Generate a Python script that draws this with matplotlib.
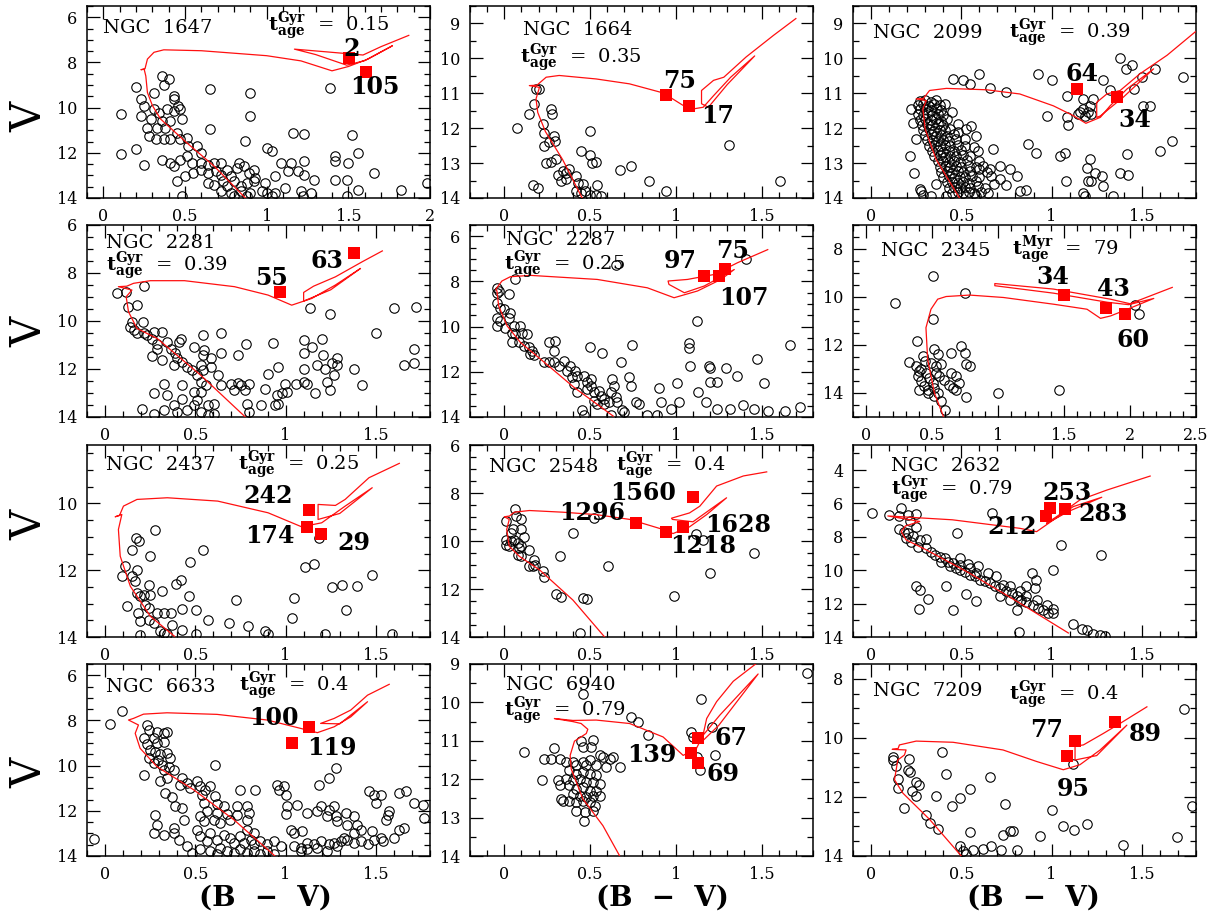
import matplotlib
matplotlib.use('Agg')
import matplotlib.pyplot as plt
from matplotlib.ticker import MultipleLocator, FuncFormatter

plt.rcParams['font.family'] = 'DejaVu Serif'
plt.rcParams['mathtext.fontset'] = 'dejavuserif'

# ---------------- NGC 1647 ----------------
ngc1647_stars = [
    (0.36, 8.59), (0.40, 8.74), (0.20, 9.07), (0.31, 9.33), (0.37, 9.00), (0.43, 9.48), (0.43, 9.63),
    (0.46, 9.93), (0.23, 9.63), (0.25, 9.93), (0.11, 10.27), (0.31, 10.07), (0.34, 10.22), (0.39, 10.07),
    (0.43, 10.15), (0.47, 10.07), (0.23, 10.37), (0.29, 10.52), (0.36, 10.59), (0.41, 10.59), (0.48, 10.52),
    (0.27, 10.89), (0.33, 10.89), (0.38, 10.89), (0.45, 11.11), (0.51, 11.33), (0.28, 11.26), (0.32, 11.41),
    (0.37, 11.41), (0.41, 11.41), (0.47, 11.41), (0.52, 11.70), (0.575, 11.70), (0.60, 12.00), (0.20, 11.85),
    (0.11, 12.07), (0.25, 12.52), (0.36, 12.30), (0.41, 12.44), (0.43, 12.59), (0.47, 12.30), (0.51, 12.15),
    (0.545, 12.44), (0.60, 12.44), (0.64, 12.52), (0.68, 12.44), (0.72, 12.44), (0.45, 13.26), (0.50, 13.04),
    (0.55, 12.89), (0.60, 12.74), (0.64, 12.89), (0.69, 12.81), (0.72, 12.96), (0.76, 12.74), (0.78, 13.04),
    (0.82, 12.67), (0.83, 12.44), (0.86, 12.59), (0.89, 12.89), (0.92, 12.74), (0.93, 13.11), (0.64, 13.33),
    (0.68, 13.41), (0.73, 13.26), (0.76, 13.48), (0.80, 13.26), (0.84, 13.48), (0.88, 13.33), (0.92, 13.26),
    (0.99, 13.33), (1.05, 13.04), (0.72, 13.70), (0.78, 13.78), (0.84, 13.70), (0.90, 13.78), (0.97, 13.70),
    (1.00, 13.78), (1.05, 13.78), (0.48, 13.93), (0.80, 13.93), (0.88, 13.93), (1.03, 13.93), (0.65, 9.19),
    (0.90, 9.33), (0.90, 10.37), (0.65, 10.96), (0.87, 11.48), (1.00, 11.78), (1.03, 11.93), (1.16, 11.11),
    (1.23, 11.18), (1.09, 12.44), (1.15, 12.44), (1.13, 12.81), (1.19, 12.81), (1.23, 12.96), (1.29, 13.19),
    (1.23, 12.37), (1.39, 9.11), (1.42, 12.15), (1.42, 12.37), (1.42, 13.19), (1.49, 13.19), (1.50, 12.44),
    (1.52, 11.19), (1.56, 12.00), (1.56, 13.63), (1.66, 12.89), (1.82, 13.63), (1.98, 13.33), (1.11, 13.56),
    (1.21, 13.70), (1.27, 13.78), (1.22, 13.93), (1.49, 13.93),
]
ngc1647_iso = [
    (0.87, 14.0), (0.68, 12.6), (0.51, 11.55), (0.35, 10.5), (0.30, 9.9), (0.27, 9.33), (0.26, 8.6),
    (0.25, 8.3), (0.23, 8.32), (0.255, 8.28), (0.27, 7.85), (0.31, 7.55), (0.37, 7.44), (0.60, 7.48),
    (1.00, 7.70), (1.21, 7.93), (1.40, 8.37), (1.50, 8.18), (1.62, 7.85), (1.77, 7.26), (1.60, 7.92),
    (1.49, 8.12), (1.30, 7.65), (1.17, 7.41), (1.35, 7.52), (1.59, 7.67), (1.70, 7.30), (1.87, 6.80),
]
ngc1647_giant_bv = [1.505, 1.606]
ngc1647_giant_v = [7.82, 8.41]
ngc1647_giant_id = ['2', '105']

# ---------------- NGC 1664 ----------------
ngc1664_stars = [
    (0.185, 10.89), (0.205, 10.89), (0.175, 11.31), (0.146, 11.6), (0.273, 11.45), (0.279, 11.6),
    (0.224, 11.88), (0.234, 12.13), (0.292, 12.22), (0.298, 12.37), (0.263, 12.41), (0.234, 12.51),
    (0.244, 12.99), (0.273, 12.97), (0.302, 12.89), (0.312, 13.33), (0.341, 13.23), (0.36, 13.28),
    (0.38, 13.18), (0.331, 13.52), (0.36, 13.47), (0.419, 13.38), (0.429, 13.57), (0.458, 13.59),
    (0.166, 13.62), (0.195, 13.71), (0.419, 13.81), (0.448, 13.86), (0.468, 13.81), (0.497, 13.9),
    (0.536, 13.9), (0.565, 13.95), (0.497, 12.08), (0.448, 12.65), (0.50, 12.78), (0.51, 12.99),
    (0.536, 12.97), (0.54, 13.62), (0.672, 13.2), (0.74, 13.09), (0.844, 13.52), (0.94, 13.81),
    (1.31, 12.48), (1.608, 13.5), (0.074, 12.0),
]
ngc1664_iso = [
    (0.454, 14.0), (0.34, 12.9), (0.24, 12.1), (0.195, 11.55), (0.185, 11.16), (0.205, 10.83),
    (0.146, 10.78), (0.19, 10.77), (0.244, 10.54), (0.32, 10.49), (0.536, 10.59), (0.73, 10.73),
    (0.926, 10.99), (1.04, 11.34), (1.10, 11.45), (1.16, 11.40), (1.22, 11.07), (1.32, 10.54),
    (1.46, 9.93), (1.30, 10.75), (1.19, 11.40), (1.15, 11.30), (1.15, 10.92), (1.22, 10.63),
    (1.28, 10.54), (1.41, 9.96), (1.57, 9.34), (1.70, 8.86),
]
ngc1664_giant_bv = [0.945, 1.078]
ngc1664_giant_v = [11.04, 11.375]
ngc1664_giant_id = ['75', '17']

# ---------------- NGC 2099 ----------------
ngc2099_stars = [
    (0.27, 11.22), (0.30, 11.18), (0.33, 11.25), (0.36, 11.2), (0.26, 11.33), (0.29, 11.30), (0.32, 11.36),
    (0.35, 11.31), (0.38, 11.35), (0.41, 11.32), (0.27, 11.46), (0.30, 11.44), (0.33, 11.48), (0.36, 11.43),
    (0.39, 11.47), (0.26, 11.6), (0.29, 11.62), (0.31, 11.57), (0.34, 11.61), (0.37, 11.59), (0.40, 11.63),
    (0.27, 11.76), (0.30, 11.73), (0.33, 11.77), (0.36, 11.74), (0.39, 11.78), (0.42, 11.75), (0.28, 11.9),
    (0.31, 11.88), (0.34, 11.92), (0.37, 11.89), (0.40, 11.91), (0.29, 12.05), (0.32, 12.03), (0.35, 12.07),
    (0.38, 12.04), (0.41, 12.06), (0.44, 12.02), (0.30, 12.2), (0.33, 12.18), (0.36, 12.22), (0.39, 12.19),
    (0.42, 12.21), (0.46, 12.17), (0.31, 12.35), (0.34, 12.33), (0.37, 12.37), (0.40, 12.34), (0.43, 12.36),
    (0.47, 12.32), (0.32, 12.5), (0.35, 12.48), (0.38, 12.52), (0.41, 12.49), (0.44, 12.51), (0.48, 12.47),
    (0.52, 12.5), (0.34, 12.65), (0.37, 12.63), (0.40, 12.67), (0.43, 12.64), (0.46, 12.66), (0.50, 12.62),
    (0.35, 12.8), (0.38, 12.78), (0.41, 12.82), (0.44, 12.79), (0.47, 12.81), (0.51, 12.77), (0.55, 12.8),
    (0.37, 12.95), (0.40, 12.93), (0.43, 12.97), (0.46, 12.94), (0.49, 12.96), (0.53, 12.92), (0.38, 13.1),
    (0.41, 13.08), (0.44, 13.12), (0.47, 13.09), (0.50, 13.11), (0.54, 13.07), (0.58, 13.1), (0.39, 13.25),
    (0.42, 13.23), (0.45, 13.27), (0.48, 13.24), (0.51, 13.26), (0.55, 13.22), (0.40, 13.4), (0.43, 13.38),
    (0.46, 13.42), (0.49, 13.39), (0.52, 13.41), (0.56, 13.37), (0.60, 13.4), (0.42, 13.55), (0.45, 13.53),
    (0.48, 13.57), (0.51, 13.54), (0.54, 13.56), (0.58, 13.52), (0.43, 13.7), (0.46, 13.68), (0.49, 13.72),
    (0.52, 13.69), (0.55, 13.71), (0.59, 13.67), (0.63, 13.7), (0.45, 13.85), (0.48, 13.83), (0.51, 13.87),
    (0.54, 13.84), (0.57, 13.86), (0.61, 13.82), (0.65, 13.85),
    (0.22, 11.45), (0.23, 11.85), (0.25, 12.3), (0.45, 11.55), (0.48, 12.1), (0.52, 12.3), (0.57, 12.55),
    (0.60, 12.95), (0.64, 13.25), (0.68, 13.6), (0.33, 13.95), (0.36, 13.6),
    (0.454, 10.59), (0.509, 10.63), (0.55, 10.73), (0.60, 10.44), (0.657, 10.86), (0.75, 10.97),
    (0.926, 10.44), (1.0, 10.63), (1.083, 11.07), (1.083, 11.69), (1.093, 11.91), (0.972, 11.66),
    (1.38, 9.99), (1.41, 10.3), (1.444, 10.2), (1.287, 10.63), (1.324, 10.92), (1.454, 10.88),
    (1.5, 10.54), (1.574, 10.3), (1.509, 11.36), (1.546, 11.36), (1.73, 10.54),
    (1.176, 11.16), (1.213, 11.36), (1.176, 11.45), (1.204, 11.55), (1.157, 11.55), (1.22, 11.6),
    (1.185, 11.64), (1.231, 11.16), (1.148, 11.6),
    (0.213, 12.8), (0.24, 13.28), (0.269, 13.74), (0.278, 13.81), (0.287, 13.9), (0.48, 11.88),
    (0.528, 12.03), (0.555, 11.93), (0.593, 12.65), (0.583, 12.22), (0.62, 13.09), (0.676, 12.6),
    (0.60, 13.18), (0.657, 13.18), (0.713, 13.09), (0.713, 13.47), (0.667, 13.38), (0.769, 13.18),
    (0.806, 13.38), (0.75, 13.62), (0.824, 13.81), (0.861, 13.76), (0.87, 12.46), (0.913, 12.7),
    (1.046, 12.8), (1.074, 12.7), (1.08, 13.52), (1.176, 13.86), (1.194, 13.13), (1.204, 13.52),
    (1.213, 12.89), (1.24, 13.28), (1.278, 13.38), (1.287, 13.66), (1.343, 13.95), (1.38, 13.28),
    (1.426, 13.33), (1.417, 12.75), (1.602, 12.65), (1.667, 12.37), (1.22, 13.52), (1.185, 13.95),
    (0.417, 13.95), (0.583, 13.95),
]
ngc2099_iso = [
    (0.49, 14.0), (0.361, 12.9), (0.30, 12.03), (0.287, 11.45), (0.306, 11.21), (0.25, 11.16),
    (0.29, 11.15), (0.324, 10.92), (0.417, 10.86), (0.64, 10.9), (0.824, 11.02), (1.01, 11.36),
    (1.12, 11.64), (1.19, 11.86), (1.27, 11.69), (1.324, 11.36), (1.417, 10.88), (1.565, 10.3),
    (1.40, 11.1), (1.27, 11.65), (1.25, 11.69), (1.25, 11.26), (1.306, 11.02), (1.38, 10.92),
    (1.49, 10.44), (1.64, 9.91), (1.796, 9.24),
]
ngc2099_giant_bv = [1.139, 1.361]
ngc2099_giant_v = [10.875, 11.10]
ngc2099_giant_id = ['64', '34']

# ---------------- NGC 2281 ----------------
ngc2281_stars = [
    (0.065, 8.85), (0.117, 8.78), (0.214, 8.55), (0.125, 9.41), (0.177, 9.34), (0.149, 10.03), (0.21, 10.03),
    (0.14, 10.24), (0.158, 10.38), (0.177, 10.52), (0.214, 10.52), (0.233, 10.59), (0.27, 10.45),
    (0.317, 10.45), (0.26, 10.73), (0.289, 10.94), (0.345, 10.87), (0.41, 10.87), (0.289, 11.15),
    (0.363, 11.15), (0.39, 11.35), (0.317, 11.63), (0.26, 11.45), (0.40, 11.56), (0.428, 11.7),
    (0.456, 11.91), (0.382, 11.84), (0.484, 12.05), (0.512, 12.26), (0.54, 12.05), (0.53, 12.54),
    (0.56, 12.68), (0.493, 11.08), (0.54, 10.59), (0.55, 11.21), (0.54, 11.42), (0.587, 11.56),
    (0.53, 11.84), (0.587, 11.91), (0.642, 11.35), (0.64, 10.52), (0.419, 10.73), (0.624, 12.26),
    (0.642, 12.68), (0.698, 12.61), (0.736, 12.57), (0.754, 12.68), (0.773, 12.89), (0.80, 12.61),
    (0.717, 12.89), (0.736, 11.42), (0.782, 10.94), (0.326, 12.61), (0.27, 13.02), (0.345, 13.09),
    (0.428, 12.68), (0.428, 13.23), (0.493, 12.95), (0.512, 13.3), (0.53, 12.95), (0.568, 13.51),
    (0.605, 13.44), (0.456, 13.72), (0.493, 13.51), (0.53, 13.79), (0.605, 13.86), (0.568, 13.93),
    (0.382, 13.51), (0.40, 13.79), (0.326, 13.72), (0.205, 13.65), (0.27, 13.86), (0.789, 13.44),
    (0.80, 13.79), (0.866, 13.51), (0.885, 12.84), (0.903, 12.19), (0.931, 10.9), (0.96, 11.91),
    (0.95, 13.09), (0.978, 13.02), (0.96, 13.44), (0.94, 13.51), (0.996, 12.61), (1.006, 12.95),
    (1.06, 12.61), (1.1, 10.8), (1.1, 11.35), (1.1, 11.98), (1.1, 12.54), (1.117, 12.61), (1.145, 11.08),
    (1.136, 9.45), (1.164, 13.02), (1.173, 11.84), (1.2, 10.73), (1.21, 11.42), (1.22, 11.98),
    (1.229, 12.54), (1.248, 9.69), (1.248, 12.89), (1.257, 11.77), (1.267, 12.26), (1.285, 11.56),
    (1.285, 11.84), (1.378, 11.98), (1.425, 12.68), (1.5, 10.52), (1.6, 9.45), (1.657, 11.84),
    (1.713, 11.77), (1.713, 11.15), (1.722, 9.41),
]
ngc2281_iso = [
    (0.777, 14.0), (0.53, 12.26), (0.289, 10.73), (0.177, 10.31), (0.13, 9.62), (0.117, 8.99),
    (0.149, 8.71), (0.074, 8.57), (0.12, 8.55), (0.158, 8.43), (0.251, 8.32), (0.44, 8.32),
    (0.717, 8.57), (0.903, 8.92), (1.034, 9.34), (1.145, 9.06), (1.276, 8.50), (1.415, 7.81),
    (1.25, 8.7), (1.10, 9.17), (1.10, 8.81), (1.155, 8.55), (1.276, 8.16), (1.425, 7.53), (1.536, 7.08),
]
ngc2281_giant_bv = [0.968, 1.378]
ngc2281_giant_v = [8.81, 7.18]
ngc2281_giant_id = ['55', '63']

# ---------------- NGC 2287 ----------------
ngc2287_stars = [
    (0.649, 7.29), (1.41, 7.0), (0.064, 7.88), (-0.043, 8.28), (-0.043, 8.5), (-0.033, 8.42), (0.025, 8.57),
    (-0.043, 8.94), (-0.023, 9.16), (-0.004, 9.23), (0.035, 9.38), (-0.043, 9.6), (-0.023, 9.74),
    (0.025, 9.6), (-0.043, 9.99), (0.006, 10.04), (0.055, 9.96), (0.094, 9.96), (0.045, 10.26),
    (0.064, 10.33), (0.103, 10.26), (0.133, 10.33), (0.045, 10.67), (0.084, 10.7), (0.113, 10.85),
    (0.142, 10.92), (0.162, 11.07), (0.152, 11.21), (0.172, 11.26), (0.259, 10.7), (0.298, 10.63),
    (0.292, 11.07), (0.23, 11.58), (0.259, 11.58), (0.288, 11.55), (0.347, 11.54), (0.318, 11.73),
    (0.386, 11.73), (0.366, 11.95), (0.415, 11.95), (0.425, 12.17), (0.396, 12.24), (0.464, 12.17),
    (0.405, 12.53), (0.425, 12.9), (0.483, 12.46), (0.503, 12.31), (0.503, 12.61), (0.483, 12.75),
    (0.522, 12.9), (0.552, 12.83), (0.561, 13.05), (0.58, 13.2), (0.63, 12.31), (0.64, 12.61),
    (0.62, 12.9), (0.649, 13.12), (0.522, 13.27), (0.542, 13.41), (0.58, 13.41), (0.61, 13.34),
    (0.659, 13.34), (0.688, 13.71), (0.698, 13.78), (0.766, 13.34), (0.786, 13.41), (0.454, 13.71),
    (0.464, 13.93), (0.62, 13.93), (0.727, 12.24), (0.737, 12.61), (0.834, 13.93), (0.893, 13.93),
    (0.499, 10.92), (0.571, 11.17), (0.682, 11.55), (0.747, 10.82), (0.904, 12.7), (0.913, 13.34),
    (0.971, 13.66), (1.006, 12.49), (1.02, 13.34), (1.078, 10.73), (1.078, 10.96), (1.084, 11.73),
    (1.121, 9.74), (1.127, 12.9), (1.177, 13.34), (1.194, 11.73), (1.198, 11.84), (1.2, 12.43),
    (1.24, 12.43), (1.24, 13.66), (1.292, 11.83), (1.318, 13.66), (1.355, 12.2), (1.39, 13.46),
    (1.458, 13.66), (1.472, 11.43), (1.513, 12.49), (1.536, 13.75), (1.634, 13.75), (1.663, 10.82),
    (1.727, 13.56),
]
ngc2287_iso = [
    (0.635, 13.96), (0.405, 12.68), (0.21, 11.43), (0.094, 10.7), (0.016, 9.96), (-0.033, 9.08),
    (-0.043, 8.42), (-0.05, 8.35), (-0.014, 7.98), (0.035, 7.79), (0.152, 7.73), (0.542, 7.91),
    (0.834, 8.28), (0.99, 8.72), (1.127, 8.42), (1.263, 7.91), (1.341, 7.47), (1.166, 8.2),
    (1.05, 8.5), (0.96, 8.13), (0.955, 7.98), (1.068, 7.91), (1.224, 7.69), (1.36, 7.17), (1.536, 6.59),
]
ngc2287_giant_bv = [1.162, 1.287, 1.253]
ngc2287_giant_v = [7.76, 7.44, 7.76]
ngc2287_giant_id = ['97', '75', '107']

# ---------------- NGC 2345 ----------------
ngc2345_stars = [
    (0.219, 10.26), (0.509, 9.14), (0.75, 9.84), (0.509, 10.9), (0.382, 11.84), (0.326, 12.71),
    (0.377, 12.88), (0.402, 13.09), (0.39, 13.3), (0.427, 12.46), (0.448, 12.67), (0.517, 12.18),
    (0.542, 12.39), (0.491, 12.74), (0.567, 12.81), (0.453, 13.16), (0.529, 13.16), (0.555, 13.3),
    (0.478, 13.37), (0.415, 13.51), (0.504, 13.58), (0.44, 13.72), (0.466, 13.86), (0.517, 13.79),
    (0.542, 14.0), (0.402, 13.86), (0.593, 13.44), (0.631, 13.65), (0.644, 13.16), (0.656, 13.79),
    (0.682, 13.3), (0.707, 13.58), (0.644, 12.32), (0.72, 12.05), (0.746, 12.32), (0.758, 12.81),
    (0.784, 12.88), (0.682, 13.86), (0.758, 14.16), (0.567, 14.35), (0.6, 14.69), (0.517, 14.14),
    (0.466, 14.0), (1.0, 14.0), (1.458, 13.86), (2.04, 10.34), (2.07, 10.72), (0.529, 12.88),
    (0.415, 13.02),
]
ngc2345_iso = [
    (0.585, 14.97), (0.517, 14.0), (0.466, 12.6), (0.453, 11.28), (0.491, 10.51), (0.542, 10.09),
    (0.606, 9.98), (0.784, 9.92), (1.04, 10.02), (1.42, 10.3), (1.674, 10.51), (1.776, 10.89),
    (1.852, 10.79), (1.98, 10.51), (2.18, 10.06), (1.99, 10.32), (1.83, 10.22), (1.42, 9.84),
    (0.975, 9.53), (0.975, 9.44), (1.42, 9.67), (1.85, 10.09), (2.0, 10.28), (2.32, 9.6),
]
ngc2345_giant_bv = [1.50, 1.82, 1.96]
ngc2345_giant_v = [9.92, 10.47, 10.69]
ngc2345_giant_id = ['34', '43', '60']

# ---------------- NGC 2437 ----------------
ngc2437_stars = [
    (0.274, 10.8), (0.171, 11.03), (0.186, 11.13), (0.149, 11.38), (0.251, 11.56), (0.54, 11.38),
    (0.471, 11.74), (0.112, 11.86), (0.093, 12.18), (0.149, 12.18), (0.177, 12.0), (0.168, 12.33),
    (0.121, 13.08), (0.177, 12.68), (0.196, 12.78), (0.214, 12.73), (0.242, 12.43), (0.248, 12.73),
    (0.317, 12.63), (0.391, 12.4), (0.419, 12.3), (0.466, 12.76), (0.224, 13.03), (0.242, 13.13),
    (0.181, 13.28), (0.196, 13.53), (0.242, 13.48), (0.27, 13.58), (0.289, 13.28), (0.326, 13.28),
    (0.363, 13.28), (0.428, 13.16), (0.503, 13.18), (0.568, 13.48), (0.372, 13.63), (0.428, 13.78),
    (0.307, 13.83), (0.326, 13.88), (0.345, 13.9), (0.196, 13.93), (0.503, 13.9), (0.689, 13.58),
    (0.726, 12.88), (0.791, 13.66), (0.885, 13.83), (0.903, 13.9), (1.034, 13.43), (1.047, 12.83),
    (1.108, 11.9), (1.155, 11.8), (1.186, 11.03), (1.22, 13.9), (1.257, 12.5), (1.31, 12.43),
    (1.337, 13.2), (1.397, 12.48), (1.477, 12.13), (1.592, 13.9),
]
ngc2437_iso = [
    (0.385, 13.98), (0.251, 13.38), (0.14, 12.48), (0.084, 11.58), (0.074, 10.78), (0.093, 10.33),
    (0.056, 10.4), (0.08, 10.36), (0.102, 10.08), (0.177, 9.88), (0.345, 9.83), (0.624, 9.93),
    (0.903, 10.28), (1.089, 10.7), (1.20, 10.58), (1.33, 10.08), (1.48, 9.53), (1.30, 10.3),
    (1.18, 10.48), (1.18, 10.03), (1.276, 10.06), (1.33, 9.88), (1.462, 9.23), (1.63, 8.8),
]
ngc2437_giant_bv = [1.127, 1.117, 1.196]
ngc2437_giant_v = [10.20, 10.70, 10.91]
ngc2437_giant_id = ['242', '174', '29']

# ---------------- NGC 2548 ----------------
ngc2548_stars = [
    (0.064, 8.66), (0.01, 9.17), (0.068, 8.97), (0.097, 9.1), (0.049, 9.52), (0.039, 9.66), (0.097, 9.52),
    (0.01, 9.94), (0.039, 10.01), (0.01, 10.15), (0.029, 10.22), (0.058, 9.94), (0.078, 10.08),
    (0.117, 9.83), (0.088, 10.29), (0.097, 10.2), (0.078, 10.57), (0.097, 10.64), (0.146, 10.36),
    (0.175, 10.78), (0.146, 11.03), (0.166, 11.03), (0.181, 10.99), (0.224, 11.27), (0.234, 11.48),
    (0.302, 12.21), (0.331, 12.32), (0.458, 12.39), (0.482, 12.43), (0.439, 13.83), (0.327, 10.64),
    (0.403, 9.66), (0.522, 9.03), (0.604, 11.06), (0.99, 12.28), (1.117, 9.69), (1.156, 9.94),
    (1.199, 11.34), (1.456, 10.5),
]
ngc2548_iso = [
    (0.585, 14.0), (0.40, 12.46), (0.205, 11.2), (0.088, 10.64), (0.029, 10.22), (0.014, 9.52),
    (0.029, 9.1), (0.0, 8.99), (0.03, 8.96), (0.058, 8.8), (0.146, 8.73), (0.341, 8.8), (0.536, 8.9),
    (0.731, 9.1), (0.926, 9.52), (0.984, 9.69), (1.08, 9.41), (1.18, 8.9), (1.296, 8.2), (1.10, 9.2),
    (0.98, 9.1), (0.975, 9.05), (1.08, 8.83), (1.14, 8.55), (1.238, 7.71), (1.394, 7.29), (1.53, 7.12),
]
ngc2548_giant_bv = [1.101, 0.766, 1.043, 0.942]
ngc2548_giant_v = [8.15, 9.24, 9.41, 9.62]
ngc2548_giant_id = ['1560', '1296', '1628', '1218']

# ---------------- NGC 2632 ----------------
ngc2632_stars = [
    (0.004, 6.59), (0.102, 6.69), (0.167, 6.29), (0.204, 6.69), (0.25, 6.63), (0.157, 6.75), (0.213, 7.03),
    (0.25, 7.43), (0.157, 7.55), (0.185, 7.69), (0.204, 7.79), (0.231, 7.98), (0.194, 8.08), (0.222, 8.28),
    (0.269, 8.18), (0.306, 8.14), (0.259, 8.58), (0.306, 8.68), (0.333, 8.88), (0.352, 9.08), (0.38, 9.18),
    (0.407, 9.28), (0.426, 9.48), (0.454, 9.58), (0.472, 9.88), (0.491, 9.98), (0.519, 10.08),
    (0.546, 10.27), (0.574, 10.37), (0.602, 10.57), (0.63, 10.67), (0.657, 10.77), (0.685, 10.97),
    (0.713, 11.07), (0.75, 11.27), (0.778, 11.37), (0.806, 11.57), (0.833, 11.77), (0.861, 11.93),
    (0.898, 12.07), (0.926, 12.27), (0.954, 12.37), (0.981, 12.57), (0.389, 9.48), (0.435, 9.74),
    (0.491, 9.68), (0.546, 9.88), (0.583, 10.14), (0.648, 10.18), (0.593, 9.74), (0.694, 10.37),
    (0.731, 10.87), (0.769, 10.97), (0.824, 11.27), (0.861, 11.57), (0.917, 11.77), (0.972, 12.07),
    (1.009, 12.33), (0.713, 11.57), (0.769, 11.77), (0.824, 11.87), (0.861, 10.97), (0.907, 11.07),
    (0.491, 9.28), (0.537, 9.62), (0.25, 10.93), (0.272, 11.17), (0.315, 11.71), (0.263, 12.33),
    (0.454, 12.41), (0.417, 10.97), (0.524, 11.41), (0.583, 11.87), (0.806, 12.37), (0.817, 13.72),
    (0.889, 10.14), (0.913, 10.61), (1.009, 9.98), (1.05, 8.48), (1.274, 9.08), (0.67, 6.55),
    (0.478, 7.78), (1.12, 13.2), (1.167, 13.52), (1.194, 13.6), (1.231, 13.8), (1.268, 13.86),
    (1.296, 13.92), (1.009, 12.57),
]
ngc2632_iso = [
    (1.093, 13.76), (0.824, 11.97), (0.546, 10.18), (0.306, 8.78), (0.194, 8.18), (0.167, 7.69),
    (0.19, 7.35), (0.27, 7.08), (0.20, 6.95), (0.093, 6.75), (0.45, 6.98), (0.824, 7.49), (0.917, 7.69),
    (1.01, 6.99), (1.12, 6.19), (1.278, 5.63), (1.10, 6.45), (0.972, 7.19), (1.028, 6.79), (1.157, 5.79),
    (1.306, 5.2), (1.546, 4.36),
]
ngc2632_giant_bv = [0.991, 1.074, 0.969]
ngc2632_giant_v = [6.29, 6.33, 6.75]
ngc2632_giant_id = ['253', '283', '212']

# ---------------- NGC 6633 ----------------
ngc6633_stars = [
    (0.093, 7.57), (0.028, 8.16), (-0.061, 13.24), (0.231, 8.2), (0.241, 8.42), (0.287, 8.5), (0.213, 8.79),
    (0.269, 8.79), (0.324, 8.54), (0.343, 8.5), (0.231, 9.04), (0.287, 9.01), (0.324, 8.94), (0.25, 9.3),
    (0.278, 9.38), (0.306, 9.48), (0.343, 9.45), (0.361, 9.67), (0.241, 9.67), (0.269, 9.89),
    (0.296, 9.74), (0.315, 9.96), (0.352, 10.04), (0.38, 10.19), (0.324, 10.19), (0.213, 10.41),
    (0.306, 10.7), (0.343, 10.55), (0.426, 10.55), (0.417, 10.85), (0.454, 10.77), (0.472, 10.99),
    (0.333, 11.21), (0.37, 11.39), (0.389, 11.77), (0.426, 11.87), (0.435, 12.39), (0.278, 12.17),
    (0.287, 12.61), (0.269, 12.97), (0.324, 13.05), (0.38, 12.97), (0.38, 12.75), (0.407, 13.27),
    (0.509, 10.7), (0.528, 10.92), (0.556, 11.07), (0.583, 10.92), (0.537, 11.29), (0.611, 11.36),
    (0.546, 11.65), (0.62, 11.68), (0.657, 11.8), (0.565, 12.02), (0.62, 12.09), (0.676, 12.12),
    (0.528, 12.24), (0.546, 12.46), (0.602, 12.39), (0.639, 12.53), (0.694, 12.39), (0.731, 12.17),
    (0.731, 11.8), (0.787, 11.8), (0.796, 12.09), (0.787, 12.39), (0.787, 12.83), (0.824, 12.97),
    (0.75, 11.07), (0.833, 11.07), (0.611, 9.96), (0.509, 12.83), (0.528, 13.12), (0.583, 12.97),
    (0.565, 13.34), (0.62, 13.27), (0.657, 13.05), (0.694, 13.2), (0.713, 13.42), (0.75, 13.12),
    (0.769, 13.42), (0.806, 13.27), (0.824, 13.49), (0.861, 13.34), (0.898, 13.49), (0.935, 13.34),
    (0.972, 13.56), (0.528, 13.71), (0.583, 13.78), (0.639, 13.64), (0.676, 13.78), (0.713, 13.86),
    (0.75, 13.71), (0.787, 13.86), (0.824, 13.78), (0.861, 13.93), (0.898, 13.78), (0.935, 13.93),
    (0.62, 13.93), (0.454, 13.56), (0.481, 13.86), (0.954, 10.85), (0.991, 10.92), (1.0, 11.29),
    (0.963, 11.07), (1.009, 11.8), (1.0, 12.12), (1.028, 12.83), (1.046, 12.97), (1.093, 12.9),
    (1.065, 11.73), (1.12, 12.09), (1.176, 12.02), (1.194, 11.8), (1.185, 10.85), (1.241, 10.55),
    (1.278, 10.11), (1.231, 12.24), (1.241, 11.95), (1.269, 11.8), (1.278, 12.24), (1.287, 12.46),
    (1.333, 12.09), (1.343, 12.61), (1.38, 12.24), (1.398, 12.61), (1.417, 12.83), (1.38, 12.97),
    (1.343, 13.27), (1.306, 13.34), (1.269, 13.42), (1.241, 13.49), (1.194, 13.34), (1.157, 13.49),
    (1.12, 13.42), (1.083, 13.64), (1.046, 13.56), (1.083, 13.78), (1.12, 13.71), (1.176, 13.64),
    (1.231, 13.78), (1.287, 13.56), (1.324, 13.2), (1.38, 13.42), (1.417, 13.34), (1.454, 13.49),
    (1.481, 12.9), (1.491, 13.27), (1.528, 13.2), (1.537, 13.34), (1.463, 11.14), (1.491, 11.29),
    (1.5, 11.65), (1.528, 11.29), (1.556, 12.39), (1.565, 12.17), (1.574, 12.02), (1.602, 13.2),
    (1.63, 12.83), (1.657, 12.75), (1.63, 11.21), (1.667, 11.14), (1.713, 11.65), (1.759, 11.73),
    (1.769, 12.31),
]
ngc6633_iso = [
    (0.941, 14.0), (0.713, 12.39), (0.491, 11.07), (0.287, 10.04), (0.194, 9.23), (0.167, 8.57),
    (0.185, 8.2), (0.13, 7.98), (0.157, 7.91), (0.213, 7.72), (0.343, 7.66), (0.62, 7.73), (0.898, 7.98),
    (1.083, 8.35), (1.176, 8.54), (1.269, 8.28), (1.361, 7.84), (1.454, 7.17), (1.30, 8.15),
    (1.194, 8.13), (1.269, 7.91), (1.361, 7.54), (1.454, 6.88), (1.574, 6.4),
]
ngc6633_giant_bv = [1.13, 1.037]
ngc6633_giant_v = [8.31, 9.01]
ngc6633_giant_id = ['100', '119']

# ---------------- NGC 6940 ----------------
ngc6940_stars = [
    (1.764, 9.24), (0.458, 9.79), (0.741, 10.37), (0.78, 10.52), (0.838, 10.85), (1.146, 9.91),
    (1.209, 10.63), (1.228, 11.38), (1.088, 10.78), (1.101, 10.9), (1.121, 11.42), (1.14, 11.77),
    (0.117, 11.29), (0.22, 12.03), (0.234, 11.47), (0.273, 11.47), (0.322, 11.47), (0.292, 11.2),
    (0.448, 11.01), (0.461, 11.16), (0.507, 11.16), (0.516, 10.98), (0.556, 11.38), (0.575, 11.42),
    (0.614, 11.47), (0.634, 11.42), (0.595, 11.68), (0.673, 11.68), (0.36, 11.55), (0.4, 11.55),
    (0.419, 11.64), (0.458, 11.55), (0.478, 11.64), (0.497, 11.51), (0.536, 11.64), (0.38, 11.77),
    (0.419, 11.86), (0.458, 11.81), (0.497, 11.86), (0.536, 11.9), (0.36, 12.0), (0.4, 12.03),
    (0.439, 12.0), (0.478, 12.08), (0.516, 12.08), (0.556, 12.12), (0.38, 12.16), (0.419, 12.25),
    (0.458, 12.21), (0.497, 12.3), (0.536, 12.3), (0.556, 12.43), (0.4, 12.38), (0.439, 12.43),
    (0.478, 12.47), (0.516, 12.43), (0.38, 12.56), (0.419, 12.6), (0.458, 12.56), (0.497, 12.6),
    (0.526, 12.69), (0.419, 12.82), (0.468, 12.86), (0.516, 12.82), (0.462, 13.08), (0.312, 12.03),
    (0.322, 12.16), (0.331, 12.51), (0.341, 12.56),
]
ngc6940_iso = [
    (0.673, 14.0), (0.575, 13.21), (0.458, 12.51), (0.39, 11.73), (0.384, 11.38), (0.409, 11.01),
    (0.478, 10.81), (0.487, 10.7), (0.448, 10.55), (0.40, 10.5), (0.292, 10.42), (0.40, 10.47),
    (0.536, 10.46), (0.731, 10.55), (0.926, 10.9), (1.043, 11.38), (1.12, 11.2), (1.16, 10.85),
    (1.257, 10.33), (1.48, 9.26), (1.25, 10.6), (1.15, 11.03), (1.18, 10.42), (1.238, 9.98),
    (1.335, 9.45), (1.48, 8.95),
]
ngc6940_giant_bv = [1.131, 1.088, 1.131]
ngc6940_giant_v = [10.94, 11.32, 11.58]
ngc6940_giant_id = ['67', '139', '69']

# ---------------- NGC 7209 ----------------
ngc7209_stars = [
    (1.731, 9.01), (1.778, 12.32), (1.694, 13.35), (1.398, 13.64), (1.194, 12.93), (1.124, 13.12),
    (1.061, 12.99), (1.0, 12.43), (0.935, 13.33), (1.12, 10.89), (0.741, 12.23), (0.661, 11.31),
    (0.55, 11.73), (0.491, 12.04), (0.45, 12.32), (0.413, 11.23), (0.394, 10.47), (0.357, 11.98),
    (0.306, 12.6), (0.324, 12.88), (0.37, 13.1), (0.12, 10.66), (0.124, 10.75), (0.139, 10.97),
    (0.148, 11.4), (0.152, 11.7), (0.185, 12.37), (0.209, 10.72), (0.204, 11.08), (0.217, 11.14),
    (0.25, 11.48), (0.263, 11.59), (0.228, 11.81), (0.25, 11.98), (0.546, 13.19), (0.491, 13.66),
    (0.509, 13.83), (0.565, 13.8), (0.62, 13.75), (0.667, 13.66), (0.722, 13.8), (0.731, 13.3),
    (0.769, 13.16), (0.787, 13.16), (0.806, 13.8), (0.528, 13.94),
]
ngc7209_iso = [
    (0.5, 14.0), (0.324, 12.76), (0.176, 11.87), (0.13, 11.42), (0.148, 10.75), (0.185, 10.58),
    (0.194, 10.41), (0.117, 10.39), (0.15, 10.36), (0.157, 10.24), (0.25, 10.11), (0.454, 10.15),
    (0.731, 10.41), (0.917, 10.8), (1.065, 11.08), (1.157, 10.91), (1.269, 10.41), (1.417, 9.57),
    (1.25, 10.6), (1.13, 10.75), (1.13, 10.28), (1.176, 10.24), (1.287, 9.85), (1.38, 9.51), (1.528, 8.95),
]
ngc7209_giant_bv = [1.13, 1.083, 1.352]
ngc7209_giant_v = [10.11, 10.63, 9.46]
ngc7209_giant_id = ['77', '95', '89']

cluster_names = ['1647', '1664', '2099', '2281', '2287', '2345',
                 '2437', '2548', '2632', '6633', '6940', '7209']
age_units = ['Gyr', 'Gyr', 'Gyr', 'Gyr', 'Gyr', 'Myr',
             'Gyr', 'Gyr', 'Gyr', 'Gyr', 'Gyr', 'Gyr']
age_values = ['0.15', '0.35', '0.39', '0.39', '0.25', '79',
              '0.25', '0.4', '0.79', '0.4', '0.79', '0.4']

# panel settings: x range, y range (faint end first), major/minor y steps,
# where the age text goes, and pixel offsets of the star labels
panels = [
    dict(stars=ngc1647_stars, iso=ngc1647_iso, gbv=ngc1647_giant_bv, gv=ngc1647_giant_v, gid=ngc1647_giant_id,
         xlim=(-0.1, 2.0), ylim=(14, 5.5), ymaj=2, ymin=0.5, age_xy=(0.528, 0.895),
         off=[(2, 9), (9, -15)]),
    dict(stars=ngc1664_stars, iso=ngc1664_iso, gbv=ngc1664_giant_bv, gv=ngc1664_giant_v, gid=ngc1664_giant_id,
         xlim=(-0.2, 1.8), ylim=(14, 8.5), ymaj=1, ymin=0.5, age_xy=(0.146, 0.73),
         off=[(13, 14), (28, -10)]),
    dict(stars=ngc2099_stars, iso=ngc2099_iso, gbv=ngc2099_giant_bv, gv=ngc2099_giant_v, gid=ngc2099_giant_id,
         xlim=(-0.1, 1.8), ylim=(14, 8.5), ymaj=1, ymin=0.5, age_xy=(0.456, 0.858),
         off=[(5, 15), (18, -23)]),
    dict(stars=ngc2281_stars, iso=ngc2281_iso, gbv=ngc2281_giant_bv, gv=ngc2281_giant_v, gid=ngc2281_giant_id,
         xlim=(-0.1, 1.8), ylim=(14, 6), ymaj=2, ymin=0.5, age_xy=(0.055, 0.785),
         off=[(-8, 14), (-27, -8)]),
    dict(stars=ngc2287_stars, iso=ngc2287_iso, gbv=ngc2287_giant_bv, gv=ngc2287_giant_v, gid=ngc2287_giant_id,
         xlim=(-0.2, 1.8), ylim=(14, 5.5), ymaj=2, ymin=0.5, age_xy=(0.10, 0.79),
         off=[(-23, 15), (8, 18), (25, -22)]),
    dict(stars=ngc2345_stars, iso=ngc2345_iso, gbv=ngc2345_giant_bv, gv=ngc2345_giant_v, gid=ngc2345_giant_id,
         xlim=(-0.1, 2.5), ylim=(15, 7), ymaj=2, ymin=0.5, age_xy=(0.464, 0.87),
         off=[(-11, 18), (7, 19), (8, -26)]),
    dict(stars=ngc2437_stars, iso=ngc2437_iso, gbv=ngc2437_giant_bv, gv=ngc2437_giant_v, gid=ngc2437_giant_id,
         xlim=(-0.1, 1.8), ylim=(14, 8.25), ymaj=2, ymin=0.5, age_xy=(0.441, 0.894),
         off=[(-40, 14), (-37, -9), (33, -9)]),
    dict(stars=ngc2548_stars, iso=ngc2548_iso, gbv=ngc2548_giant_bv, gv=ngc2548_giant_v, gid=ngc2548_giant_id,
         xlim=(-0.2, 1.8), ylim=(14, 6), ymaj=2, ymin=0.5, age_xy=(0.426, 0.89),
         off=[(-50, 4), (-44, 10), (55, 2), (37, -14)]),
    dict(stars=ngc2632_stars, iso=ngc2632_iso, gbv=ngc2632_giant_bv, gv=ngc2632_giant_v, gid=ngc2632_giant_id,
         xlim=(-0.1, 1.8), ylim=(14, 2.5), ymaj=2, ymin=1, age_xy=(0.11, 0.765),
         off=[(17, 15), (38, -5), (-34, -11)]),
    dict(stars=ngc6633_stars, iso=ngc6633_iso, gbv=ngc6633_giant_bv, gv=ngc6633_giant_v, gid=ngc6633_giant_id,
         xlim=(-0.1, 1.8), ylim=(14, 5.5), ymaj=2, ymin=0.5, age_xy=(0.444, 0.882),
         off=[(-35, 9), (40, -5)]),
    dict(stars=ngc6940_stars, iso=ngc6940_iso, gbv=ngc6940_giant_bv, gv=ngc6940_giant_v, gid=ngc6940_giant_id,
         xlim=(-0.2, 1.8), ylim=(14, 9), ymaj=1, ymin=0.5, age_xy=(0.10, 0.752),
         off=[(33, 0), (-39, -2), (25, -11)]),
    dict(stars=ngc7209_stars, iso=ngc7209_iso, gbv=ngc7209_giant_bv, gv=ngc7209_giant_v, gid=ngc7209_giant_id,
         xlim=(-0.1, 1.8), ylim=(14, 7.5), ymaj=2, ymin=0.5, age_xy=(0.456, 0.839),
         off=[(-28, 11), (7, -33), (30, -12)]),
]
# name text position (axes fraction) for each panel
name_xy = [(0.047, 0.885), (0.154, 0.875), (0.058, 0.858), (0.055, 0.905), (0.105, 0.92), (0.083, 0.864),
           (0.055, 0.894), (0.055, 0.885), (0.11, 0.892), (0.055, 0.882), (0.105, 0.89), (0.058, 0.858)]

W, H = 1217, 916
col_left = [87, 470, 853]
row_top = [6, 225, 445, 664]
pw, ph = 343, 192

fig = plt.figure(figsize=(W / 100, H / 100), dpi=100)
fmt = FuncFormatter(lambda v, p: f'{v:g}')

for i, p in enumerate(panels):
    r, c = divmod(i, 3)
    ax = fig.add_axes([col_left[c] / W, 1 - (row_top[r] + ph) / H, pw / W, ph / H])

    sbv, sv = zip(*p['stars'])
    ax.plot(sbv, sv, 'o', mfc='none', mec='black', ms=6.8, mew=0.8, zorder=2)
    ibv, iv = zip(*p['iso'])
    ax.plot(ibv, iv, '-', color='#ff1010', lw=0.9, zorder=3)
    ax.plot(p['gbv'], p['gv'], 's', color='#ff0000', ms=8.5, mew=0, zorder=4)
    for sid, x, y, (dx, dy) in zip(p['gid'], p['gbv'], p['gv'], p['off']):
        ax.annotate(sid, (x, y), xytext=(dx, dy), textcoords='offset pixels',
                    ha='center', va='center', fontsize=17, fontweight='bold', zorder=5)

    ax.text(*name_xy[i], f'NGC  {cluster_names[i]}', transform=ax.transAxes,
            fontsize=14, ha='left', va='center')
    ax.text(*p['age_xy'],
            r'$\mathbf{t}^{\mathbf{' + age_units[i] + r'}}_{\mathbf{age}}$  =  ' + age_values[i],
            transform=ax.transAxes, fontsize=14, ha='left', va='center')

    ax.set_xlim(*p['xlim'])
    ax.set_ylim(*p['ylim'])
    ax.xaxis.set_major_locator(MultipleLocator(0.5))
    ax.xaxis.set_minor_locator(MultipleLocator(0.1))
    ax.yaxis.set_major_locator(MultipleLocator(p['ymaj']))
    ax.yaxis.set_minor_locator(MultipleLocator(p['ymin']))
    ax.xaxis.set_major_formatter(fmt)
    ax.yaxis.set_major_formatter(fmt)
    ax.tick_params(which='both', direction='in', top=True, right=True, width=0.9)
    ax.tick_params(which='major', length=9, labelsize=11.5, pad=7)
    ax.tick_params(which='minor', length=4.5)
    for s in ax.spines.values():
        s.set_linewidth(1.1)

# axis titles
for xc in [265, 662, 1033]:
    fig.text(xc / W, 1 - 898 / H, '(B  \u2212  V)', fontsize=20, fontweight='bold',
             ha='center', va='center')
for yc in [117, 332, 525, 773]:
    fig.text(29 / W, 1 - yc / H, 'V', fontsize=30, rotation=90, ha='center', va='center')

fig.savefig('out.png', dpi=100)
